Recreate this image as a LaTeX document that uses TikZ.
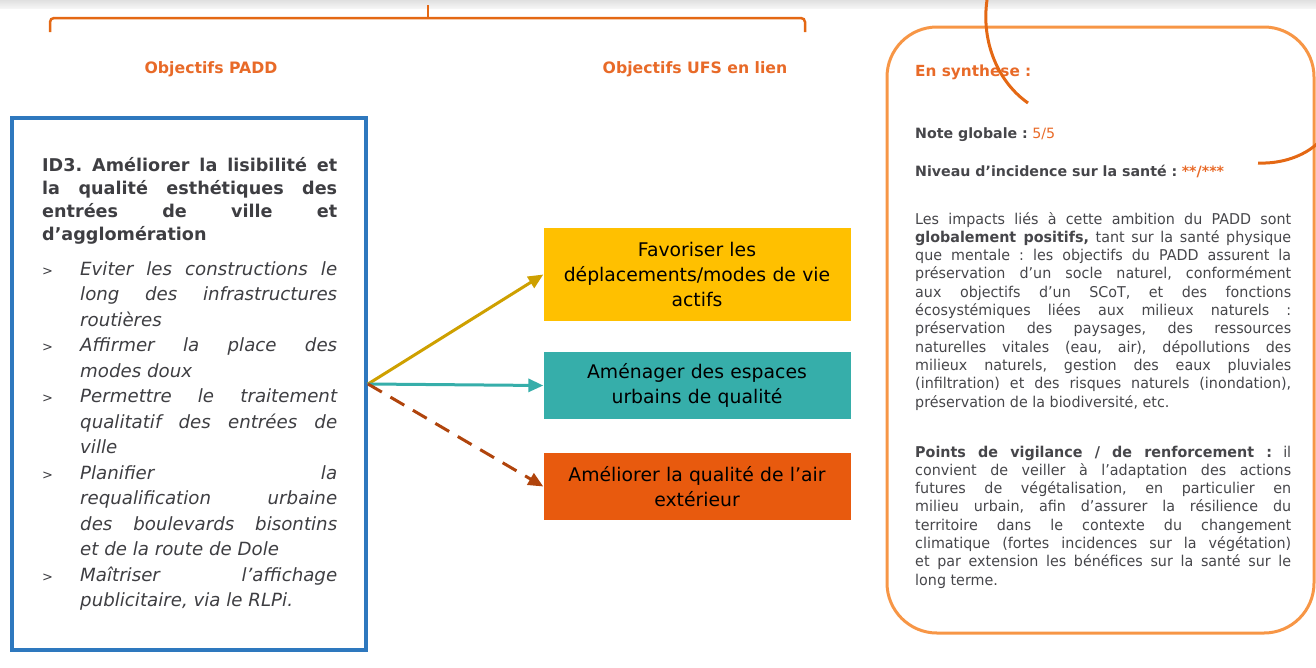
\documentclass[tikz,border=0pt]{standalone}
\usepackage{fontspec}
\setmainfont{DejaVu Sans}
\newfontfamily\synthfont[FakeStretch=0.96]{DejaVu Sans}
\usepackage{tikz}
\usetikzlibrary{arrows.meta}
\usepackage{xcolor}
\frenchspacing

\definecolor{paddblue}{RGB}{46,120,190}
\definecolor{brace}{RGB}{228,104,20}
\definecolor{titleor}{RGB}{232,106,40}
\definecolor{synthor}{RGB}{247,150,70}
\definecolor{favyellow}{RGB}{255,192,0}
\definecolor{favarrow}{RGB}{206,160,0}
\definecolor{amenteal}{RGB}{54,174,170}
\definecolor{airorange}{RGB}{232,90,14}
\definecolor{airarrow}{RGB}{176,68,12}
\definecolor{txtgray}{RGB}{62,62,66}
\definecolor{syngray}{RGB}{70,70,74}

\newcommand{\puce}{\hangindent=38pt\hangafter=1\noindent\makebox[38pt][l]{\upshape\fontsize{13}{13}\selectfont >}}

\begin{document}
\begin{tikzpicture}[x=1pt,y=-1pt]
    \useasboundingbox (0,0) rectangle (1316,667);
    \shade[top color=black!12, bottom color=black!4] (0,0) rectangle (1316,8);

    % accolade du haut
    \draw[brace, line width=2.5pt, rounded corners=4pt] (50,32) -- (50,18) -- (805,18) -- (805,32);
    \draw[brace, line width=2.5pt] (428,18) -- (428,5);

    \begin{scope}[every node/.style={font=\bfseries\fontsize{15.7}{18}\selectfont, text=titleor}]
      \node (lpadd) at (211,69) {Objectifs PADD};
      \node (lufs) at (695,69) {Objectifs UFS en lien};
    \end{scope}

    % objectif du PADD
    \node[draw=paddblue, line width=4pt, minimum width=354pt, minimum height=532pt, inner sep=0] (padd) at (189,384) {};
    \node[anchor=base west, text width=295pt, align=justify, inner sep=0, text=txtgray] (id3) at (42,171) {%
      {\bfseries\fontsize{17.6}{23}\selectfont ID3. Améliorer la lisibilité et\linebreak la qualité esthétiques des\linebreak entrées de ville et\linebreak d’agglomération\par}
      \vspace{9.5pt}
      \fontsize{18.2}{25.5}\selectfont\itshape
      \puce Eviter les constructions le\linebreak long des infrastructures\linebreak routières\par
      \puce Affirmer la place des\linebreak modes doux\par
      \puce Permettre le traitement\linebreak qualitatif des entrées de\linebreak ville\par
      \puce Planifier la\linebreak requalification urbaine\linebreak des boulevards bisontins\linebreak et de la route de Dole\par
      \puce Maîtriser l’affichage\linebreak publicitaire, via le RLPi.\par};

    % objectifs UFS
    \begin{scope}[every node/.style={minimum width=307pt, text width=300pt, align=center, inner sep=0,
        font=\fontsize{18.8}{25}\selectfont, text=black}]
      \node[fill=favyellow, minimum height=93pt] (fav) at (697,274.5) {Favoriser les\\déplacements/modes de vie\\actifs};
      \node[fill=amenteal, minimum height=67pt] (amen) at (697,385.5) {Aménager des espaces\\urbains de qualité};
      \node[fill=airorange, minimum height=67pt] (air) at (697,486.5) {Améliorer la qualité de l'air\\extérieur};
    \end{scope}

    \begin{scope}[>={Triangle[length=15pt,width=13pt]}, line width=3pt]
      \draw[->, favarrow] (padd.east) -- (fav.west);
      \draw[->, amenteal] (padd.east) -- (amen.west);
      \draw[->, airarrow, dash pattern=on 16pt off 10pt] (padd.east) -- (air.west);
    \end{scope}

    % synthese
    \node[draw=synthor, line width=3pt, rounded corners=50pt, minimum width=427pt, minimum height=606pt, inner sep=0] (synth) at (1100.5,330) {};
    \node[anchor=base west, inner sep=0, font=\bfseries\fontsize{15.3}{19}\selectfont, text=titleor] (ensynth) at (915,76) {En synthese :};
    \begin{scope}[every node/.style={anchor=base west, inner sep=0, text=syngray, font=\fontsize{14.2}{18}\selectfont}]
      \node (note) at (915,138) {\textbf{Note globale :} \textcolor{titleor}{5/5}};
      \node (niveau) at (915,176) {\textbf{Niveau d’incidence sur la santé :} \textcolor{titleor}{\textbf{**/***}}};
    \end{scope}
    \begin{scope}[every node/.style={anchor=base west, inner sep=0, text width=376pt, align=justify, text=syngray, font=\synthfont\fontsize{14.9}{18.3}\selectfont}]
      \node (impacts) at (915,224) {Les impacts liés à cette ambition du PADD sont\linebreak \textbf{globalement positifs,} tant sur la santé physique\linebreak que mentale : les objectifs du PADD assurent la\linebreak préservation d’un socle naturel, conformément\linebreak aux objectifs d’un SCoT, et des fonctions\linebreak écosystémiques liées aux milieux naturels :\linebreak préservation des paysages, des ressources\linebreak naturelles vitales (eau, air), dépollutions des\linebreak milieux naturels, gestion des eaux pluviales\linebreak (infiltration) et des risques naturels (inondation),\linebreak préservation de la biodiversité, etc.};
      \node (vigil) at (915,457) {\textbf{Points de vigilance / de renforcement :} il\linebreak convient de veiller à l’adaptation des actions\linebreak futures de végétalisation, en particulier en\linebreak milieu urbain, afin d’assurer la résilience du\linebreak territoire dans le contexte du changement\linebreak climatique (fortes incidences sur la végétation)\linebreak et par extension les bénéfices sur la santé sur le\linebreak long terme.};
    \end{scope}

    % arcs decoratifs
    \draw[brace, line width=3pt] (987,0) .. controls (981,42) and (998,82) .. (1028,103);
    \draw[brace, line width=3pt] (1258,163) .. controls (1282,164) and (1304,156) .. (1318,143);
  \end{tikzpicture}
\end{document}
